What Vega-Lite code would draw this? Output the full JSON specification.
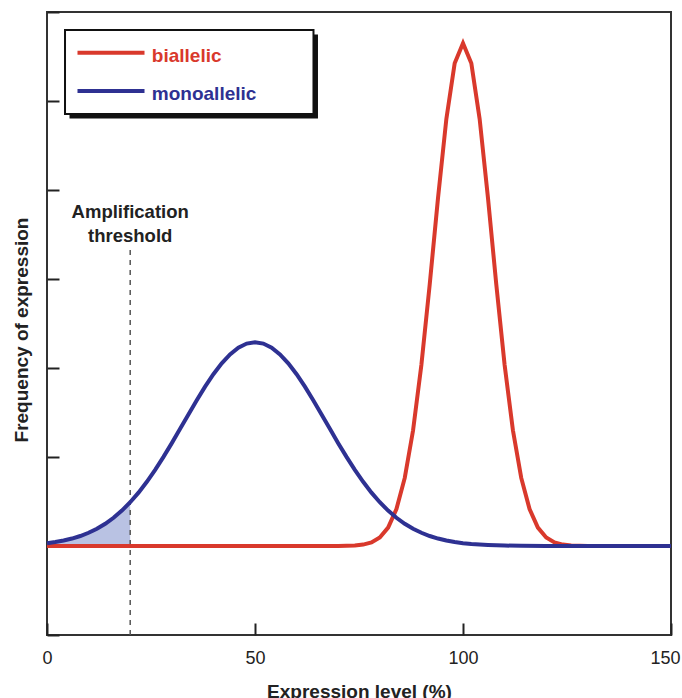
{
  "$schema": "https://vega.github.io/schema/vega-lite/v6.json",
  "autosize": {"type": "none"},
  "padding": {"left": 47, "top": 12, "right": 11, "bottom": 63},
  "width": 624,
  "height": 623,
  "background": "white",
  "config": {
    "font": "Liberation Sans",
    "view": {"stroke": "#333333", "strokeWidth": 2},
    "axis": {"grid": false, "domain": false}
  },
  "datasets": {
    "curves": [
      {"x": 0, "y": 0, "series": "biallelic"},
      {"x": 70, "y": 0, "series": "biallelic"},
      {"x": 72, "y": 0.002, "series": "biallelic"},
      {"x": 74, "y": 0.006, "series": "biallelic"},
      {"x": 76, "y": 0.016, "series": "biallelic"},
      {"x": 78, "y": 0.040, "series": "biallelic"},
      {"x": 80, "y": 0.095, "series": "biallelic"},
      {"x": 82, "y": 0.207, "series": "biallelic"},
      {"x": 84, "y": 0.415, "series": "biallelic"},
      {"x": 86, "y": 0.765, "series": "biallelic"},
      {"x": 88, "y": 1.300, "series": "biallelic"},
      {"x": 90, "y": 2.036, "series": "biallelic"},
      {"x": 92, "y": 2.940, "series": "biallelic"},
      {"x": 94, "y": 3.913, "series": "biallelic"},
      {"x": 96, "y": 4.799, "series": "biallelic"},
      {"x": 98, "y": 5.424, "series": "biallelic"},
      {"x": 100, "y": 5.650, "series": "biallelic"},
      {"x": 102, "y": 5.424, "series": "biallelic"},
      {"x": 104, "y": 4.799, "series": "biallelic"},
      {"x": 106, "y": 3.913, "series": "biallelic"},
      {"x": 108, "y": 2.940, "series": "biallelic"},
      {"x": 110, "y": 2.036, "series": "biallelic"},
      {"x": 112, "y": 1.300, "series": "biallelic"},
      {"x": 114, "y": 0.765, "series": "biallelic"},
      {"x": 116, "y": 0.415, "series": "biallelic"},
      {"x": 118, "y": 0.207, "series": "biallelic"},
      {"x": 120, "y": 0.095, "series": "biallelic"},
      {"x": 122, "y": 0.040, "series": "biallelic"},
      {"x": 124, "y": 0.016, "series": "biallelic"},
      {"x": 126, "y": 0.006, "series": "biallelic"},
      {"x": 128, "y": 0.002, "series": "biallelic"},
      {"x": 130, "y": 0, "series": "biallelic"},
      {"x": 150, "y": 0, "series": "biallelic"},
      {"x": 0, "y": 0.0319, "series": "monoallelic"},
      {"x": 2, "y": 0.0446, "series": "monoallelic"},
      {"x": 4, "y": 0.0615, "series": "monoallelic"},
      {"x": 6, "y": 0.0837, "series": "monoallelic"},
      {"x": 8, "y": 0.1123, "series": "monoallelic"},
      {"x": 10, "y": 0.1486, "series": "monoallelic"},
      {"x": 12, "y": 0.1940, "series": "monoallelic"},
      {"x": 14, "y": 0.2499, "series": "monoallelic"},
      {"x": 16, "y": 0.3174, "series": "monoallelic"},
      {"x": 18, "y": 0.3978, "series": "monoallelic"},
      {"x": 20, "y": 0.4916, "series": "monoallelic"},
      {"x": 22, "y": 0.5995, "series": "monoallelic"},
      {"x": 24, "y": 0.7211, "series": "monoallelic"},
      {"x": 26, "y": 0.8555, "series": "monoallelic"},
      {"x": 28, "y": 1.0012, "series": "monoallelic"},
      {"x": 30, "y": 1.1558, "series": "monoallelic"},
      {"x": 32, "y": 1.3162, "series": "monoallelic"},
      {"x": 34, "y": 1.4784, "series": "monoallelic"},
      {"x": 36, "y": 1.6380, "series": "monoallelic"},
      {"x": 38, "y": 1.7903, "series": "monoallelic"},
      {"x": 40, "y": 1.9302, "series": "monoallelic"},
      {"x": 42, "y": 2.0527, "series": "monoallelic"},
      {"x": 44, "y": 2.1533, "series": "monoallelic"},
      {"x": 46, "y": 2.2282, "series": "monoallelic"},
      {"x": 48, "y": 2.2744, "series": "monoallelic"},
      {"x": 50, "y": 2.2900, "series": "monoallelic"},
      {"x": 52, "y": 2.2744, "series": "monoallelic"},
      {"x": 54, "y": 2.2282, "series": "monoallelic"},
      {"x": 56, "y": 2.1533, "series": "monoallelic"},
      {"x": 58, "y": 2.0527, "series": "monoallelic"},
      {"x": 60, "y": 1.9302, "series": "monoallelic"},
      {"x": 62, "y": 1.7903, "series": "monoallelic"},
      {"x": 64, "y": 1.6380, "series": "monoallelic"},
      {"x": 66, "y": 1.4784, "series": "monoallelic"},
      {"x": 68, "y": 1.3162, "series": "monoallelic"},
      {"x": 70, "y": 1.1558, "series": "monoallelic"},
      {"x": 72, "y": 1.0012, "series": "monoallelic"},
      {"x": 74, "y": 0.8555, "series": "monoallelic"},
      {"x": 76, "y": 0.7211, "series": "monoallelic"},
      {"x": 78, "y": 0.5995, "series": "monoallelic"},
      {"x": 80, "y": 0.4916, "series": "monoallelic"},
      {"x": 82, "y": 0.3978, "series": "monoallelic"},
      {"x": 84, "y": 0.3174, "series": "monoallelic"},
      {"x": 86, "y": 0.2499, "series": "monoallelic"},
      {"x": 88, "y": 0.1940, "series": "monoallelic"},
      {"x": 90, "y": 0.1486, "series": "monoallelic"},
      {"x": 92, "y": 0.1123, "series": "monoallelic"},
      {"x": 94, "y": 0.0837, "series": "monoallelic"},
      {"x": 96, "y": 0.0615, "series": "monoallelic"},
      {"x": 98, "y": 0.0446, "series": "monoallelic"},
      {"x": 100, "y": 0.0319, "series": "monoallelic"},
      {"x": 102, "y": 0.0225, "series": "monoallelic"},
      {"x": 104, "y": 0.0157, "series": "monoallelic"},
      {"x": 106, "y": 0.0108, "series": "monoallelic"},
      {"x": 108, "y": 0.0073, "series": "monoallelic"},
      {"x": 110, "y": 0.0049, "series": "monoallelic"},
      {"x": 114, "y": 0.0021, "series": "monoallelic"},
      {"x": 120, "y": 0.0005, "series": "monoallelic"},
      {"x": 130, "y": 0, "series": "monoallelic"},
      {"x": 150, "y": 0, "series": "monoallelic"}
    ],
    "threshold": [{"level": 20, "label": ["Amplification", "threshold"]}],
    "one": [{}]
  },
  "layer": [
    {
      "data": {"name": "curves"},
      "transform": [{"filter": "datum.series === 'monoallelic' && datum.x <= 20"}],
      "mark": {"type": "area", "color": "#b9c2e3", "opacity": 1},
      "encoding": {
        "x": {
          "field": "x", "type": "quantitative",
          "scale": {"domain": [0, 150], "nice": false},
          "axis": {
            "values": [0, 50, 100, 150],
            "tickSize": -12, "tickWidth": 2, "tickColor": "#222222",
            "labelFontSize": 18, "labelColor": "#222222", "labelPadding": 40,
            "labelBaseline": "alphabetic", "labelFlush": false,
            "labelOffset": {"condition": {"test": "datum.value === 150", "value": -6}, "value": 0},
            "title": "Expression level (%)", "titleFontSize": 19, "titleFontWeight": "bold",
            "titleColor": "#222222", "titleY": 62, "titleBaseline": "alphabetic"
          }
        },
        "y": {
          "field": "y", "type": "quantitative",
          "scale": {"domain": [-1, 6], "nice": false, "zero": false},
          "axis": {
            "values": [-1, 0, 1, 2, 3, 4, 5, 6],
            "labels": false,
            "tickSize": -12, "tickWidth": 2, "tickColor": "#222222",
            "title": "Frequency of expression", "titleFontSize": 19, "titleFontWeight": "bold",
            "titleColor": "#222222", "titleX": -20, "titleY": 317.5, "titleAngle": -90,
            "titleBaseline": "alphabetic", "titleAlign": "center"
          }
        },
        "y2": {"datum": 0}
      }
    },
    {
      "data": {"name": "threshold"},
      "mark": {"type": "rule", "color": "#555555", "strokeWidth": 1.5, "strokeDash": [5, 5]},
      "encoding": {
        "x": {"field": "level", "type": "quantitative"},
        "y": {"datum": -1},
        "y2": {"datum": 3.35}
      }
    },
    {
      "data": {"name": "threshold"},
      "mark": {"type": "text", "fontSize": 18.5, "fontWeight": "bold", "color": "#222222", "align": "center", "baseline": "alphabetic", "lineHeight": 24},
      "encoding": {
        "x": {"field": "level", "type": "quantitative"},
        "y": {"datum": 3.685},
        "text": {"field": "label"}
      }
    },
    {
      "data": {"name": "curves"},
      "mark": {"type": "line", "strokeWidth": 4, "strokeJoin": "miter"},
      "encoding": {
        "x": {"field": "x", "type": "quantitative"},
        "y": {"field": "y", "type": "quantitative"},
        "color": {
          "field": "series", "type": "nominal",
          "scale": {"domain": ["biallelic", "monoallelic"], "range": ["#d9392c", "#2e3192"]},
          "legend": null
        }
      }
    },
    {
      "data": {"name": "one"},
      "mark": {"type": "rect", "color": "#111111"},
      "encoding": {
        "x": {"datum": 5.41}, "x2": {"datum": 65.14},
        "y": {"datum": 5.747}, "y2": {"datum": 4.803}
      }
    },
    {
      "data": {"name": "one"},
      "mark": {"type": "rect", "fill": "white", "stroke": "#111111", "strokeWidth": 2},
      "encoding": {
        "x": {"datum": 4.33}, "x2": {"datum": 64.06},
        "y": {"datum": 5.798}, "y2": {"datum": 4.854}
      }
    },
    {
      "data": {"name": "one"},
      "mark": {"type": "rule", "strokeWidth": 4},
      "encoding": {
        "x": {"datum": 7.33}, "x2": {"datum": 23.44},
        "y": {"datum": 5.543},
        "color": {"datum": "biallelic"}
      }
    },
    {
      "data": {"name": "one"},
      "mark": {"type": "rule", "strokeWidth": 4},
      "encoding": {
        "x": {"datum": 7.33}, "x2": {"datum": 23.44},
        "y": {"datum": 5.112},
        "color": {"datum": "monoallelic"}
      }
    },
    {
      "data": {"name": "one"},
      "mark": {"type": "text", "fontSize": 19, "fontWeight": "bold", "align": "left", "baseline": "alphabetic"},
      "encoding": {
        "x": {"datum": 25.2},
        "y": {"datum": 5.442},
        "text": {"value": "biallelic"},
        "color": {"datum": "biallelic"}
      }
    },
    {
      "data": {"name": "one"},
      "mark": {"type": "text", "fontSize": 19, "fontWeight": "bold", "align": "left", "baseline": "alphabetic"},
      "encoding": {
        "x": {"datum": 25.2},
        "y": {"datum": 5.011},
        "text": {"value": "monoallelic"},
        "color": {"datum": "monoallelic"}
      }
    }
  ]
}
